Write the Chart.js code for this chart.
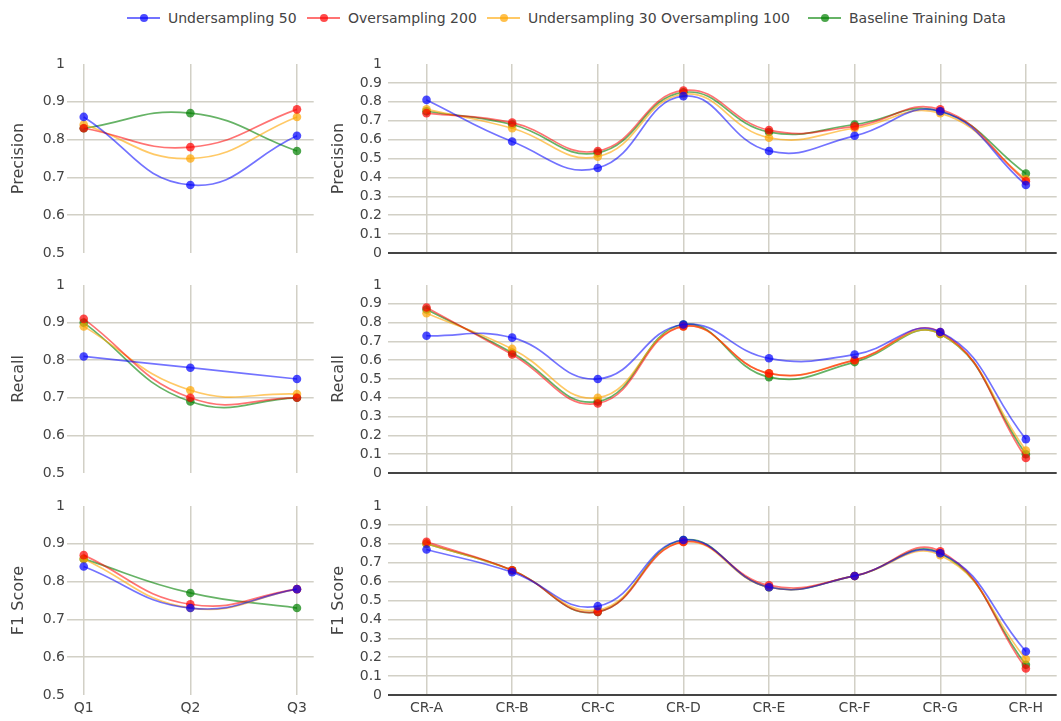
<!DOCTYPE html>
<html>
<head>
<meta charset="utf-8">
<script src="https://cdn.jsdelivr.net/npm/chart.js@4.4.1/dist/chart.umd.min.js"></script>
<style>
  html, body { margin: 0; padding: 0; background: #fff; width: 1061px; height: 721px; overflow: hidden;
    font-family: "DejaVu Sans", Verdana, sans-serif; }
  canvas { position: absolute; }
  .item { position: absolute; top: 9px; display: flex; align-items: center;
    font-size: 14px; color: #444; white-space: nowrap; }
  .sym { position: relative; width: 33px; height: 18px; margin-right: 8px; }
  .sym .ln { position: absolute; left: 0; right: 0; top: 8px; height: 2px; }
  .sym .dot { position: absolute; left: 12.5px; top: 5px; width: 8px; height: 8px; border-radius: 50%; }
</style>
</head>
<body>
<script>
// ---- data ----
const seriesNames = ['Undersampling 50', 'Oversampling 200', 'Undersampling 30 Oversampling 100', 'Baseline Training Data'];
const quarters = ['Q1', 'Q2', 'Q3'];
const classes = ['CR-A', 'CR-B', 'CR-C', 'CR-D', 'CR-E', 'CR-F', 'CR-G', 'CR-H'];
const metricTitles = ['Precision', 'Recall', 'F1 Score'];
const quarterTicks = [0.5, 0.6, 0.7, 0.8, 0.9, 1];
const classTicks = [0, 0.1, 0.2, 0.3, 0.4, 0.5, 0.6, 0.7, 0.8, 0.9, 1];

// rows: Undersampling 50, Oversampling 200, Under 30 / Over 100, Baseline
const precisionByQuarter = [
  [0.86, 0.68, 0.81],
  [0.83, 0.78, 0.88],
  [0.84, 0.75, 0.86],
  [0.83, 0.87, 0.77]
];
const recallByQuarter = [
  [0.81, 0.78, 0.75],
  [0.91, 0.70, 0.70],
  [0.89, 0.72, 0.71],
  [0.90, 0.69, 0.70]
];
const f1ByQuarter = [
  [0.84, 0.73, 0.78],
  [0.87, 0.74, 0.78],
  [0.86, 0.73, 0.78],
  [0.86, 0.77, 0.73]
];
const precisionByClass = [
  [0.81, 0.59, 0.45, 0.83, 0.54, 0.62, 0.75, 0.36],
  [0.74, 0.69, 0.54, 0.86, 0.65, 0.67, 0.76, 0.38],
  [0.76, 0.66, 0.51, 0.84, 0.61, 0.66, 0.74, 0.39],
  [0.75, 0.68, 0.53, 0.85, 0.64, 0.68, 0.75, 0.42]
];
const recallByClass = [
  [0.73, 0.72, 0.50, 0.79, 0.61, 0.63, 0.75, 0.18],
  [0.88, 0.63, 0.37, 0.78, 0.53, 0.60, 0.75, 0.08],
  [0.85, 0.66, 0.40, 0.78, 0.53, 0.60, 0.74, 0.12],
  [0.87, 0.64, 0.38, 0.79, 0.51, 0.59, 0.74, 0.10]
];
const f1ByClass = [
  [0.77, 0.65, 0.47, 0.82, 0.57, 0.63, 0.75, 0.23],
  [0.81, 0.66, 0.44, 0.81, 0.58, 0.63, 0.76, 0.14],
  [0.80, 0.66, 0.45, 0.81, 0.57, 0.63, 0.74, 0.19],
  [0.80, 0.66, 0.44, 0.82, 0.57, 0.63, 0.75, 0.16]
];

// ---- styling ----
const lineColors = ['rgba(0,0,255,0.55)', 'rgba(255,0,0,0.55)', 'rgba(255,165,0,0.6)', 'rgba(0,128,0,0.6)'];
const markerColors = ['rgba(0,0,255,0.7)', 'rgba(255,0,0,0.7)', 'rgba(255,165,0,0.7)', 'rgba(0,128,0,0.7)'];
const gridColor = 'rgb(210,208,198)';
const textColor = '#444';
const fontFamily = '"DejaVu Sans", Verdana, sans-serif';
const legendX = [127, 307, 487, 808];

// plot-area rows (top, bottom) and columns (canvas left, axis width, area right)
const rows = [[64, 253], [285, 473], [506, 695]];
const cols = [
  { left: 0, axisW: 67, right: 318, xMin: -0.157, xMax: 2.157, cats: quarters, ticks: quarterTicks, titlePad: 9, tickPad: 2 },
  { left: 320, axisW: 68, right: 1061, xMin: -0.45, xMax: 7.36, cats: classes, ticks: classTicks, titlePad: 9.5, tickPad: 6 }
];
const panels = [
  [precisionByQuarter, precisionByClass],
  [recallByQuarter, recallByClass],
  [f1ByQuarter, f1ByClass]
];

// ---- legend ----
seriesNames.forEach((name, k) => {
  const item = document.createElement('div');
  item.className = 'item';
  item.style.left = legendX[k] + 'px';
  item.innerHTML = '<span class="sym"><span class="ln" style="background:' + lineColors[k] + '"></span>' +
    '<span class="dot" style="background:' + markerColors[k] + '"></span></span><span></span>';
  item.lastChild.textContent = name;
  document.body.appendChild(item);
});

function fmt(v) { return (v === 0 || v === 1) ? String(v) : v.toFixed(1); }

rows.forEach(([top, bottom], r) => {
  cols.forEach((col, c) => {
    const showX = r === rows.length - 1;
    const padBottom = showX ? 0 : 15;
    const xAxisH = showX ? 26 : 0;
    const canvas = document.createElement('canvas');
    const w = col.right - col.left;
    const h = 15 + (bottom - top) + padBottom + xAxisH;
    canvas.width = w; canvas.height = h;
    canvas.style.left = col.left + 'px';
    canvas.style.top = (top - 15) + 'px';
    canvas.style.width = w + 'px'; canvas.style.height = h + 'px';
    document.body.appendChild(canvas);

    const series = panels[r][c];
    const yMin = col.ticks[0], yMax = col.ticks[col.ticks.length - 1];

    new Chart(canvas, {
      type: 'line',
      data: {
        datasets: series.map((vals, k) => ({
          label: seriesNames[k],
          data: vals.map((v, i) => ({ x: i, y: v })),
          borderColor: lineColors[k],
          backgroundColor: markerColors[k],
          pointBackgroundColor: markerColors[k],
          pointBorderWidth: 0,
          pointRadius: 4.3,
          borderWidth: 1.7,
          tension: 0.45,
          fill: false
        }))
      },
      options: {
        responsive: false,
        animation: false,
        events: [],
        layout: { padding: { top: 15, bottom: padBottom, left: 0, right: 0 } },
        plugins: { legend: { display: false }, tooltip: { enabled: false } },
        scales: {
          x: {
            type: 'linear',
            min: col.xMin, max: col.xMax,
            afterBuildTicks: s => { s.ticks = col.cats.map((_, i) => ({ value: i })); },
            afterFit: s => { s.height = xAxisH; },
            ticks: {
              display: showX, autoSkip: false, maxRotation: 0, padding: 5,
              color: textColor, font: { family: fontFamily, size: 14 },
              callback: v => col.cats[v]
            },
            grid: { color: gridColor, lineWidth: 1.5, drawTicks: false },
            border: { display: false }
          },
          y: {
            min: yMin, max: yMax,
            afterBuildTicks: s => { s.ticks = col.ticks.map(v => ({ value: v })); },
            afterFit: s => { s.width = col.axisW; },
            ticks: {
              autoSkip: false,
              padding: col.tickPad,
              color: textColor, font: { family: fontFamily, size: 14 },
              callback: v => fmt(v)
            },
            grid: {
              drawTicks: false,
              color: ctx => {
                const v = ctx.tick.value;
                if (v === 0) return '#444';
                if (v === yMin || v === yMax) return 'rgba(0,0,0,0)';
                return gridColor;
              },
              lineWidth: ctx => ctx.tick.value === 0 ? 2 : 1.5
            },
            border: { display: false },
            title: {
              display: true, text: metricTitles[r], color: textColor,
              font: { family: fontFamily, size: 16 },
              padding: { top: col.titlePad, bottom: 0 }
            }
          }
        }
      }
    });
  });
});
</script>
</body>
</html>
